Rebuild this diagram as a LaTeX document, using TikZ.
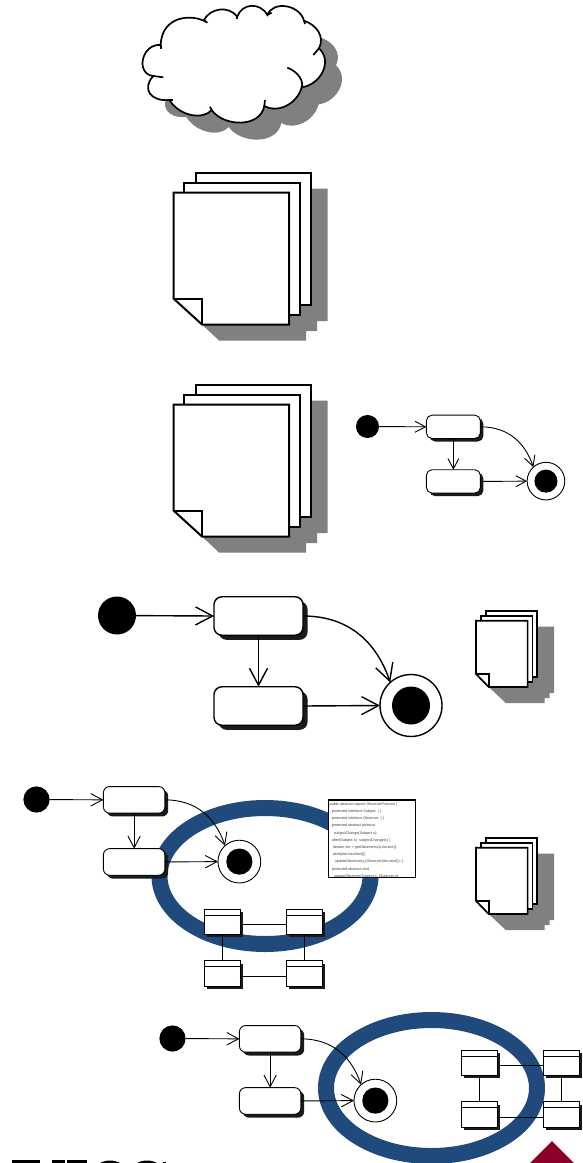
\documentclass[tikz,border=0pt]{standalone}
\usepackage{fontspec}
\setsansfont{Liberation Sans}
\usetikzlibrary{arrows.meta,shadows,shapes.geometric}
\definecolor{shadowink}{HTML}{1A1A1A}
\definecolor{sheetgray}{HTML}{808080}
\definecolor{bandblue}{HTML}{204A7C}
\definecolor{wedgered}{HTML}{8B0029}
\tikzset{
  x=1pt,y=-1pt,
  ringband/.style={draw=bandblue,line width=16pt,fill=none},
  sheet/.style={draw=black,fill=white,line join=miter},
  sheetshadow/.style={fill=sheetgray,draw=none},
  classbox/.style={rectangle,draw=black,fill=white,line width=.9pt,inner sep=0pt,outer sep=0pt,
    minimum width=35.5pt,minimum height=25.5pt,
    general shadow={fill=shadowink,shadow xshift=3pt,shadow yshift=-3pt}},
  classlink/.style={draw=black,line width=.9pt},
  cloudline/.style={draw=black,line width=1.7pt},
}
\newcommand{\statediagram}[5]{%
  % prefix, x, y of start dot, scale, line width
  \pgfmathsetmacro\dgW{89*#4}\pgfmathsetmacro\dgH{38.5*#4}
  \pgfmathsetmacro\dgR{6*#4+2}\pgfmathsetmacro\dgS{4*#4+.6}
  \pgfmathsetmacro\dgI{38*#4}\pgfmathsetmacro\dgF{62*#4}
  \pgfmathsetmacro\dgAl{17*#4}\pgfmathsetmacro\dgAw{18*#4}
  \node[circle,fill=black,inner sep=0pt,minimum size=\dgI pt] (#1i) at (#2,#3) {};
  \node[rectangle,rounded corners=\dgR pt,draw=black,fill=white,line width=#5pt,inner sep=0pt,outer sep=0pt,
    minimum width=\dgW pt,minimum height=\dgH pt,
    general shadow={fill=shadowink,shadow xshift=\dgS pt,shadow yshift=-\dgS pt}]
    (#1a) at ({#2+141.5*#4},{#3+.5*#4}) {};
  \node[rectangle,rounded corners=\dgR pt,draw=black,fill=white,line width=#5pt,inner sep=0pt,outer sep=0pt,
    minimum width=\dgW pt,minimum height=\dgH pt,
    general shadow={fill=shadowink,shadow xshift=\dgS pt,shadow yshift=-\dgS pt}]
    (#1b) at ({#2+141.5*#4},{#3+90.5*#4}) {};
  \node[circle,draw=black,fill=white,line width=#5pt,inner sep=0pt,outer sep=0pt,minimum size=\dgF pt]
    (#1f) at ({#2+294*#4},{#3+90*#4}) {};
  \node[circle,fill=black,inner sep=0pt,minimum size=\dgI pt] (#1d) at (#1f) {};
  \begin{scope}[line width=#5pt,-{Straight Barb[length=\dgAl pt,width=\dgAw pt]}]
    \draw (#1i) -- (#1a.west);
    \draw (#1a) -- (#1b.north);
    \draw (#1b.east) -- (#1f.west);
    \draw (#1a.east) .. controls +({48*#4},0) and +({-13*#4},{-38*#4}) .. (#1f.132);
  \end{scope}
}
\newcommand{\docstack}[6]{%
  % x, y, xscale, yscale, shadow offset, sheet line width
  \begin{scope}[shift={(#1+#5,#2+#5-1)},xscale=#3,yscale=#4]
    \fill[sheetshadow] (22,0) -- (137,0) -- (137,132.5) -- (126.5,132.5) -- (126.5,142.5)
      -- (115.5,142.5) -- (115.5,152) -- (28.5,152) -- ({28.5-#5/#3},{152-(#5-1)/#4}) -- ({28.5-#5/#3},20) -- (22,20) -- cycle;
  \end{scope}
  \begin{scope}[shift={(#1,#2)},xscale=#3,yscale=#4]
    \filldraw[sheet,line width=#6pt] (22,10) -- (22,0) -- (137,0) -- (137,132.5) -- (126.5,132.5);
    \filldraw[sheet,line width=#6pt] (10.5,20) -- (10.5,10) -- (126.5,10) -- (126.5,142.5) -- (115.5,142.5);
    \filldraw[sheet,line width=#6pt] (0,20) -- (115.5,20) -- (115.5,152) -- (28.5,152) -- (0,126) -- cycle;
    \draw[sheet,line width=#6pt,fill=none] (0,126) -- (28.5,126) -- (28.5,152);
  \end{scope}
}
\newcommand{\classgroup}[3]{%
  \node[classbox] (#1a) at (#2+222.2,#3+921.7) {};
  \node[classbox] (#1b) at (#2+304.2,#3+921.7) {};
  \node[classbox] (#1c) at (#2+222.2,#3+973.3) {};
  \node[classbox] (#1d) at (#2+304.2,#3+973.3) {};
  \foreach \cbx in {a,b,c,d}
    \draw[classlink] ([yshift=-6pt]#1\cbx.north west) -- ([yshift=-6pt]#1\cbx.north east);
  \draw[classlink] ([yshift=-3.2pt]#1a.east) -- ([yshift=-3.2pt]#1b.west);
  \draw[classlink] ([yshift=-3.2pt]#1c.east) -- ([yshift=-3.2pt]#1d.west);
  \draw[classlink] (#1a.south) -- (#1c.north);
  \draw[classlink] (#1b.south) -- (#1d.north);
}
\def\cloudpath{(232,68) .. controls (190,40) and (95,45) .. (92,135)
  .. controls (35,130) and (15,222) .. (70,228)
  .. controls (35,265) and (60,305) .. (118,300)
  .. controls (150,350) and (220,360) .. (245,330)
  .. controls (280,380) and (390,385) .. (403,318)
  .. controls (440,340) and (500,315) .. (515,262)
  .. controls (570,255) and (610,185) .. (567,145)
  .. controls (585,110) and (560,75) .. (522,62)
  .. controls (510,15) and (430,0) .. (412,45)
  .. controls (390,5) and (335,10) .. (322,50)
  .. controls (295,15) and (240,25) .. (222,60)
  .. controls (226,63) and (229,65) .. (232,68) -- cycle}
\begin{document}
\begin{tikzpicture}
\useasboundingbox (0,0) rectangle (582,1163);
\clip (0,0) rectangle (582,1163);
% cloud
\begin{scope}[shift={(147,17)},scale=1/3]
  \fill[sheetgray] \cloudpath;
\end{scope}
\begin{scope}[shift={(130,0)},scale=1/3]
  \filldraw[cloudline,fill=white] \cloudpath;
  \draw[cloudline] (472,203) .. controls (505,215) and (522,245) .. (515,262);
  \draw[cloudline] (403,318) -- (405,300);
  \draw[cloudline] (550,165) -- (567,145);
  \draw[cloudline] (92,135) -- (92,147);
  \draw[cloudline] (70,228) -- (100,232);
  \draw[cloudline] (118,300) -- (128,300);
  \draw[cloudline] (245,330) -- (240,320);
  \draw[cloudline] (322,50) -- (322,58);
  \draw[cloudline] (412,45) -- (425,38);
  \draw[cloudline] (522,62) -- (525,72);
\end{scope}
% document stacks
\docstack{173.5}{172.5}{1}{1}{17}{2}
\docstack{173.5}{384.5}{1}{1}{17}{2}
\docstack{476}{610.7}{.447}{.502}{17}{1.7}
\docstack{476}{837.7}{.447}{.502}{17}{1.7}
% state diagrams
\statediagram{p}{367.5}{426.5}{.607}{.9}
\statediagram{q}{117}{615.5}{1}{1.4}
% ring bands
\draw[ringband] (265,876) ellipse [x radius=105.5,y radius=68];
\draw[ringband] (431.5,1088) ellipse [x radius=105.5,y radius=68];
\statediagram{r}{36.5}{799.5}{.69}{.9}
\statediagram{t}{172.5}{1038.5}{.69}{.9}
% code listing
\node[rectangle,draw=black,fill=white,line width=1.2pt,inner sep=0pt,outer sep=0pt,
  minimum width=87pt,minimum height=77.5pt] (code) at (372,838.7) {};
\node[anchor=north west,inner sep=0pt,align=left,text=black!75,
  font=\sffamily\fontsize{3.7}{7.2}\selectfont] (listing) at (329.5,802.5) {%
public abstract aspect ObserverProtocol \{\\
\ \ protected interface Subject \ \{ \}\\
\ \ protected interface Observer \ \{ \}\\
\ \ protected abstract pointcut\\
\ \ \ \ subjectChange(Subject s);\\
\ \ after(Subject s): subjectChange(s) \{\\
\ \ \ Iterator iter = getObservers(s).iterator();\\
\ \ \ while(iter.hasNext())\\
\ \ \ \ \ updateObserver(s,(Observer)iter.next()); \}\\
\ \ protected abstract void\\
\ \ \ \ updateObserver(Subject s, Observer o);};
% class groups
\classgroup{u}{0}{0}
\classgroup{v}{257}{141}
% bottom strip
\fill[wedgered] (552,1141) -- (576,1165) -- (528,1165) -- cycle;
\fill[black] (12,1160) rectangle (40,1165);
\fill[black] (52,1160) rectangle (65,1165);
\fill[black] (67,1160) rectangle (87,1165);
\draw[black,line width=3pt] (110,1173) ellipse [x radius=15,y radius=11];
\draw[black,line width=3pt] (147,1173) ellipse [x radius=15,y radius=11];
\fill[black] (163,1161.5) rectangle (166,1165);
\end{tikzpicture}
\end{document}
